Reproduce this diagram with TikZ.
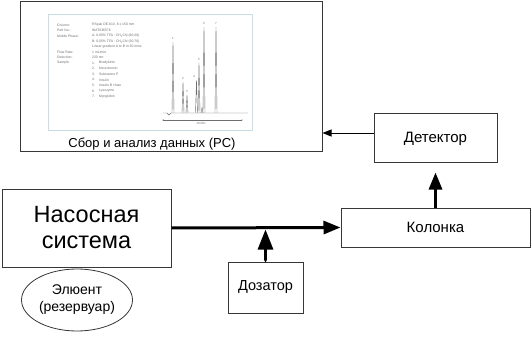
\documentclass[tikz,border=0pt]{standalone}
\usepackage{fontspec}
\setmainfont{Liberation Sans}
\usetikzlibrary{arrows.meta, positioning, shapes.geometric}
\definecolor{boxGray}{RGB}{55,55,55}
\definecolor{panelBlue}{RGB}{200,222,230}
\definecolor{traceGray}{RGB}{110,110,110}

\tikzset{
  unitbox/.style={draw=boxGray, line width=1pt, fill=white, align=center, inner sep=0pt},
  flow/.style={line width=3pt, -{Triangle[length=17pt,width=13pt]}},
  signal/.style={line width=0.9pt, -{Triangle[length=9pt,width=7pt]}},
  tinytext/.style={font=\fontsize{3.4}{4}\selectfont, text=traceGray, inner sep=0pt, anchor=west},
}

\begin{document}
\begin{tikzpicture}[x=1pt, y=-1pt]
  \useasboundingbox (0,0) rectangle (531,361);

  % data station with chromatogram
  \node[unitbox, minimum width=302pt, minimum height=150pt] (pc) at (171,77) {};
  \node[draw=panelBlue, line width=0.8pt, minimum width=204pt, minimum height=116pt,
        inner sep=0pt] (panel) at (150,72) {};
  \node[font=\fontsize{13}{15}\selectfont, anchor=base, inner sep=0pt] (pclabel) at (152,148)
      {Сбор и анализ данных (PC)};

  \node[tinytext] (l1) at (57,25) {Column:};
  \node[tinytext] (l2) at (57,30.5) {Part No.:};
  \node[tinytext] (l3) at (57,36) {Mobile Phase:};
  \node[tinytext] (l4) at (57,52.5) {Flow Rate:};
  \node[tinytext] (l5) at (57,57.5) {Detection:};
  \node[tinytext] (l6) at (57,63) {Sample:};
  \node[tinytext] (v1) at (92,25) {RSpak DE-613, 6 x 150 mm};
  \node[tinytext] (v2) at (92,30.5) {WAT036576};
  \node[tinytext] (v3) at (92,36) {A: 0.05\% TFA : CH\textsubscript{3}CN (80:20)};
  \node[tinytext] (v4) at (92,41.5) {B: 0.05\% TFA : CH\textsubscript{3}CN (30:70)};
  \node[tinytext] (v5) at (92,47) {Linear gradient A to B in 30 mins};
  \node[tinytext] (v6) at (92,52.5) {1 mL/min};
  \node[tinytext] (v7) at (92,57.5) {220 nm};
  \foreach \n/\s [count=\i] in {1/Bradykinin, 2/Neurotensin, 3/Substance P, 4/Insulin,
                                5/Insulin B chain, 6/Lysozyme, 7/Myoglobin} {
    \node[tinytext] (num\i) at (92,{63+5.6*(\i-1)}) {\n.};
    \node[tinytext] (smp\i) at (99,{63+5.6*(\i-1)}) {\s};
  }

  \draw[traceGray, line width=0.4pt] (163,113) -- (167,113) -- (169,115) -- (171,113) -- (248,113);
  \foreach \px/\py/\lx/\lab in {173/42/173/1, 183/82/183/2, 187/95/187/3, 196.5/80/194/4,
                                199/63/199/5, 202/107/202/, 204/27/204/6, 216/27/216/7} {
    \draw[traceGray, line width=0.4pt, line join=round] (\px-1,113) -- (\px,\py) -- (\px+1,113);
    \node[font=\fontsize{3}{3}\selectfont, text=traceGray, inner sep=0pt] (pk\lab) at (\lx,\py-3.5) {\lab};
  }
  \draw[traceGray, line width=0.3pt, {Latex[length=1.5pt]}-{Latex[length=1.5pt]}] (162,120) -- (243,120);
  \node[font=\fontsize{3}{3}\selectfont, text=traceGray, inner sep=0pt] (tscale) at (201,123.5) {10 Min};

  % instrument units
  \node[unitbox, minimum width=123pt, minimum height=49pt, font=\fontsize{15}{17}\selectfont]
      (detector) at (435.5,138.5) {Детектор};
  \node[unitbox, minimum width=189pt, minimum height=39pt, font=\fontsize{15}{17}\selectfont]
      (column) at (435.5,227.5) {Колонка};
  \node[unitbox, minimum width=75pt, minimum height=51pt, font=\fontsize{14.5}{17}\selectfont]
      (injector) at (265.5,287.5) {Дозатор};
  \node[unitbox, minimum width=169pt, minimum height=78pt, font=\fontsize{23.5}{26}\selectfont]
      (pump) at (86.5,228) {Насосная\\система};
  \node[draw=boxGray, line width=0.8pt, ellipse, minimum width=111pt, minimum height=62pt,
        inner sep=0pt, align=center, font=\fontsize{14}{17}\selectfont]
      (eluent) at (77,300) {Элюент\\(резервуар)};

  % connections
  \draw[flow] (pump.east) -- (column.west);
  \draw[flow, shorten >=9pt] (column.north) -- (detector.south);
  \draw[flow, {Circle[length=4pt,width=3pt]}-{Triangle[length=20pt,width=15pt]}, shorten >=1.5pt]
      (injector.north) -- (injector.north |- pump.east);
  \coordinate (dout) at ([yshift=5.5pt]detector.west);
  \draw[signal] (dout) -- (dout -| pc.east);
\end{tikzpicture}
\end{document}
